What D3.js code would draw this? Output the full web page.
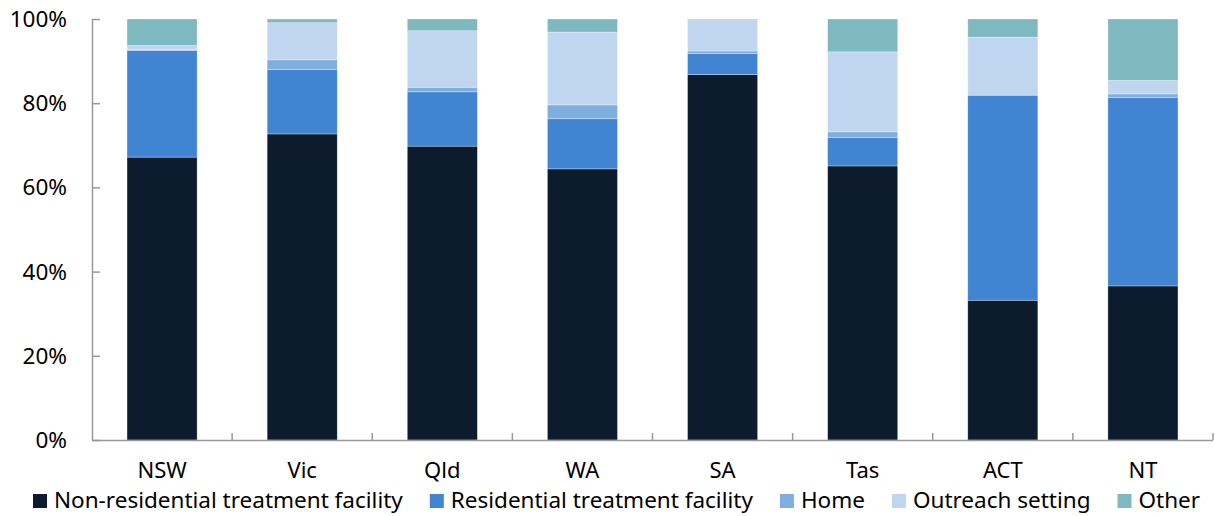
<!DOCTYPE html>
<html><head><meta charset="utf-8">
<script src="https://cdn.jsdelivr.net/npm/d3@7"></script>
<style>body{margin:0;background:#fff}svg{display:block}text{font-family:"Noto Sans","Open Sans",sans-serif}</style>
</head><body><svg id="c" width="1215" height="516"></svg>
<script>
const categories = ["NSW","Vic","Qld","WA","SA","Tas","ACT","NT"];
const seriesNames = ["Non-residential treatment facility","Residential treatment facility","Home","Outreach setting","Other"];
const nonResidential = [67.2,72.7,69.8,64.4,86.8,65.1,33.2,36.6];
const residential    = [25.3,15.3,12.9,11.9,5.0,6.7,48.7,44.7];
const home           = [0.2,2.3,1.1,3.3,0.6,1.4,0.0,0.9];
const outreach       = [1.0,8.8,13.4,17.3,7.4,19.0,13.8,3.2];
const other          = [6.3,0.9,2.8,3.1,0.2,7.8,4.3,14.6];
const yTicks = [0,20,40,60,80,100];
const colors = ["#0c1c2e","#4084d2","#7faee0","#c0d6f0","#7fb9c0"];

(function(){
const seriesVals = [nonResidential,residential,home,outreach,other];
const rows = categories.map((c,i)=>{const r={cat:c};seriesNames.forEach((s,j)=>r[s]=seriesVals[j][i]);return r;});
const stack = d3.stack().keys(seriesNames)(rows);

const svg = d3.select("#c");
const mLeft=92, mRight=1213, mTop=19, mBottom=440;
const fs = 22.5;
const x = d3.scaleBand().domain(categories).range([mLeft,mRight]).paddingInner(0.5).paddingOuter(0.25);
const y = d3.scaleLinear().domain([0,100]).range([mBottom,mTop]);

svg.append("g").selectAll("g").data(stack).join("g").attr("fill",(d,i)=>colors[i])
  .selectAll("rect").data(d=>d).join("rect")
  .attr("x",d=>x(d.data.cat)).attr("width",x.bandwidth())
  .attr("y",d=>y(d[1])).attr("height",d=>Math.max(0,y(d[0])-y(d[1])))
  .attr("stroke","#ffffff").attr("stroke-opacity",0.5).attr("stroke-width",0.6);

const ya = svg.append("g").attr("transform",`translate(${mLeft},0)`)
  .call(d3.axisRight(y).tickValues(yTicks).tickSize(8).tickFormat(""));
ya.select(".domain").attr("stroke","#999").attr("stroke-width",1.5).attr("d",`M0.5,${mTop}V${mBottom}`);
ya.selectAll(".tick line").attr("stroke","#999").attr("stroke-width",1.5);
svg.append("g").selectAll("text").data(yTicks).join("text")
  .attr("x",67).attr("y",d=>y(d)+8).attr("text-anchor","end")
  .attr("font-size",fs).attr("fill","#000").text(d=>d+"%");

const bandStep = x.step();
const sepTicks = categories.slice(1).map(c=>x(c)-bandStep*0.25);
const xa = svg.append("g");
xa.append("line").attr("x1",mLeft).attr("x2",mRight).attr("y1",mBottom+0.5).attr("y2",mBottom+0.5).attr("stroke","#999").attr("stroke-width",1.5);
xa.selectAll("line.t").data(sepTicks.concat([mRight])).join("line").attr("class","t")
  .attr("x1",d=>d).attr("x2",d=>d).attr("y1",mBottom).attr("y2",mBottom-7).attr("stroke","#999").attr("stroke-width",1.5);
xa.selectAll("text").data(categories).join("text")
  .attr("x",d=>x(d)+x.bandwidth()/2).attr("y",478).attr("text-anchor","middle")
  .attr("font-size",22).attr("fill","#000").text(d=>d);

const lg = svg.append("g");
let lx = 33;
seriesNames.forEach((s,i)=>{
  lg.append("rect").attr("x",lx).attr("y",494).attr("width",14).attr("height",14).attr("fill",colors[i]);
  const t = lg.append("text").attr("x",lx+21).attr("y",508).attr("font-size",fs).attr("fill","#000").text(s);
  lx += 21 + t.node().getComputedTextLength() + 27;
});
})();
</script></body></html>
